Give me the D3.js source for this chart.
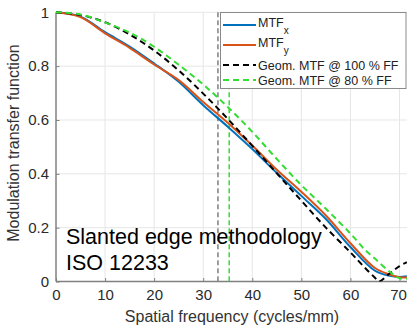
<!DOCTYPE html>
<html>
<head>
<meta charset="utf-8">
<title>MTF slanted edge</title>
<script src="https://cdn.jsdelivr.net/npm/d3@7"></script>
<style>
body { margin: 0; background: #fff; }
svg { display: block; font-family: "Liberation Sans", Arial, sans-serif; }
</style>
</head>
<body>
<script>
// measured curves (cycles/mm)
var freqMeas = [0, 5, 10, 15, 20, 25, 30, 35, 40, 45, 50, 55, 60, 65, 68, 70, 71.5];
var mtfX = [1, 0.984, 0.926, 0.873, 0.81, 0.742, 0.655, 0.575, 0.492, 0.403, 0.318, 0.232, 0.128, 0.04, 0.021, 0.017, 0.02];
var mtfY = [1, 0.982, 0.922, 0.868, 0.806, 0.748, 0.667, 0.59, 0.505, 0.415, 0.333, 0.245, 0.142, 0.05, 0.026, 0.016, 0.015];

// geometric MTF, 100 % fill factor
var freq100 = [0, 5, 10, 15, 20, 25, 30, 35, 40, 45, 50, 55, 60, 63, 65, 65.8, 68, 70, 71.5];
var geom100 = [1, 0.99, 0.963, 0.918, 0.858, 0.784, 0.698, 0.604, 0.504, 0.402, 0.3, 0.2, 0.108, 0.05, 0.014, 0, 0.03, 0.057, 0.072];

// geometric MTF, 80 % fill factor
var freq80 = [0, 5, 10, 15, 20, 25, 30, 35, 40, 45, 50, 55, 60, 63, 65, 68, 70, 71.5];
var geom80 = [1, 0.992, 0.962, 0.925, 0.872, 0.805, 0.732, 0.648, 0.556, 0.455, 0.358, 0.27, 0.178, 0.117, 0.085, 0.036, 0.012, 0.01];

// vertical markers
var markerFreq = [33.0, 35.3];
var markerColor = ["#808080", "#33dd33"];

var xTicks = [0, 10, 20, 30, 40, 50, 60, 70];
var yTicks = [0, 0.2, 0.4, 0.6, 0.8, 1];

var legendNames = ["MTF", "MTF", "Geom. MTF @ 100 % FF", "Geom. MTF @ 80 % FF"];
var legendSubs = ["x", "y", "", ""];

var series = [
  { f: freqMeas, v: mtfX, color: "#0072BD", dash: null },
  { f: freqMeas, v: mtfY, color: "#D95319", dash: null },
  { f: freq100, v: geom100, color: "#000000", dash: "6,4" },
  { f: freq80, v: geom80, color: "#33dd33", dash: "6,4" }
];

var w = 407, h = 331;
var x = d3.scaleLinear().domain([0, 70]).range([56, 399.5]);
var y = d3.scaleLinear().domain([0, 1]).range([281.5, 12.3]);
var right = 407;

var svg = d3.select("body").append("svg")
    .attr("width", w)
    .attr("height", h);

svg.append("defs").append("clipPath").attr("id", "plot")
  .append("rect")
    .attr("x", 56).attr("y", 8)
    .attr("width", right - 56).attr("height", 281.5 - 8);

// grid
svg.append("g").selectAll("line")
  .data(xTicks.slice(1))
  .enter().append("line")
    .attr("x1", d => x(d)).attr("x2", d => x(d))
    .attr("y1", y(1)).attr("y2", y(0))
    .attr("stroke", "#e6e6e6");
svg.append("g").selectAll("line")
  .data(yTicks.slice(1))
  .enter().append("line")
    .attr("x1", x(0)).attr("x2", right)
    .attr("y1", d => y(d)).attr("y2", d => y(d))
    .attr("stroke", "#e6e6e6");

// axes
var xAxis = svg.append("g")
    .attr("transform", "translate(0," + y(0) + ")")
    .call(d3.axisBottom(x).tickValues(xTicks).tickFormat(d3.format("d"))
      .tickSize(-3.5).tickSizeOuter(0).tickPadding(8));
var yAxis = svg.append("g")
    .attr("transform", "translate(" + x(0) + ",0)")
    .call(d3.axisLeft(y).tickValues(yTicks).tickFormat(d => d === 0 || d === 1 ? d : d.toFixed(1))
      .tickSize(-3.5).tickSizeOuter(0).tickPadding(7));
[xAxis, yAxis].forEach(function(a) {
  a.select(".domain").remove();
  a.selectAll("line").attr("stroke", "#808080");
  a.selectAll("text").attr("fill", "#2a2a2a").style("font-size", "15px")
    .style("font-family", "Liberation Sans, Arial, sans-serif");
});
xAxis.selectAll(".tick text").filter(d => d === 70).attr("dx", "-1.5");
svg.append("line")
    .attr("x1", x(0)).attr("x2", right)
    .attr("y1", y(0)).attr("y2", y(0))
    .attr("stroke", "#808080").attr("stroke-width", 1.5);
svg.append("line")
    .attr("x1", x(0)).attr("x2", x(0))
    .attr("y1", y(0)).attr("y2", y(1))
    .attr("stroke", "#808080").attr("stroke-width", 1.5);

// vertical markers
svg.append("g").selectAll("line")
  .data(markerFreq)
  .enter().append("line")
    .attr("x1", d => x(d)).attr("x2", d => x(d))
    .attr("y1", y(1)).attr("y2", y(0))
    .attr("stroke", (d, i) => markerColor[i])
    .attr("stroke-width", 1.5)
    .attr("stroke-dasharray", "5,3");

// curves
var line = d3.line().curve(d3.curveCatmullRom.alpha(0.5));
svg.append("g").attr("clip-path", "url(#plot)")
  .selectAll("path")
  .data(series)
  .enter().append("path")
    .attr("d", s => line(s.f.map((f, i) => [x(f), y(s.v[i])])))
    .attr("fill", "none")
    .attr("stroke", s => s.color)
    .attr("stroke-width", 2)
    .attr("stroke-dasharray", s => s.dash);

// annotation
var note = svg.append("text")
    .attr("x", 66).attr("y", 243.5)
    .attr("fill", "#000")
    .style("font-size", "21.5px");
note.append("tspan").attr("x", 66).text("Slanted edge methodology");
note.append("tspan").attr("x", 66).attr("dy", 26).text("ISO 12233");

// axis labels
svg.append("text")
    .attr("x", 232).attr("y", 322)
    .attr("text-anchor", "middle")
    .attr("fill", "#333")
    .style("font-size", "16px")
    .text("Spatial frequency (cycles/mm)");
svg.append("text")
    .attr("transform", "translate(19,143) rotate(-90)")
    .attr("text-anchor", "middle")
    .attr("fill", "#333")
    .style("font-size", "16px")
    .text("Modulation transfer function");

// legend
var lg = svg.append("g");
lg.append("rect")
    .attr("x", 220.5).attr("y", 12.5)
    .attr("width", 185.5).attr("height", 76)
    .attr("fill", "#fff")
    .attr("stroke", "#8a8a8a");
var rowY = [25, 45, 65, 80];
var rows = lg.selectAll("g.row")
  .data(series)
  .enter().append("g").attr("class", "row");
rows.append("line")
    .attr("x1", 223).attr("x2", 256)
    .attr("y1", (d, i) => rowY[i]).attr("y2", (d, i) => rowY[i])
    .attr("stroke", d => d.color)
    .attr("stroke-width", 2)
    .attr("stroke-dasharray", d => d.dash);
var lt = rows.append("text")
    .attr("x", 258)
    .attr("y", (d, i) => rowY[i] + (legendSubs[i] ? 2 : 4.5))
    .attr("fill", "#222")
    .style("font-size", "12.5px");
lt.append("tspan").text((d, i) => legendNames[i]);
lt.append("tspan")
    .attr("dy", 7)
    .style("font-size", "10px")
    .text((d, i) => legendSubs[i]);
</script>
</body>
</html>
